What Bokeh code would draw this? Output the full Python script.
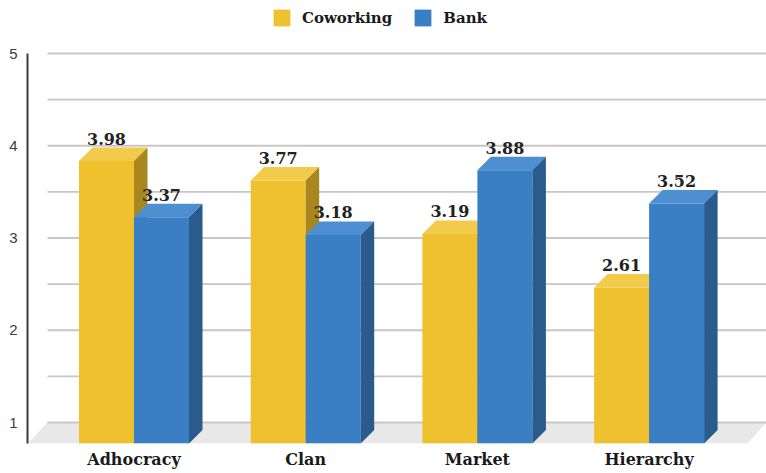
from bokeh.plotting import figure
from bokeh.models import FixedTicker, Legend, LegendItem
from bokeh.embed import file_html
from bokeh.resources import INLINE

categories = ["Adhocracy", "Clan", "Market", "Hierarchy"]
series = ["Coworking", "Bank"]
coworking = [3.98, 3.77, 3.19, 2.61]
bank = [3.37, 3.18, 3.88, 3.52]
yticks = [1, 2, 3, 4, 5]
grid_vals = [1, 1.5, 2, 2.5, 3, 3.5, 4, 4.5, 5]

# ---- geometry (style) ----
PX_X = 171.7          # px per category
PX_Y = 92.25          # px per value unit
FRAME_L, FRAME_R = 27, 766
CENTER0 = 133.5
X0 = 0.5 - (CENTER0 - FRAME_L) / PX_X
X1 = 0.5 + (FRAME_R - CENTER0) / PX_X
VB = 1 - 21 / PX_Y
VT = 1 + 422 / PX_Y
W = 55 / PX_X
DX = 13.5 / PX_X
DY = 13.5 / PX_Y
FLOOR_DX = 20 / PX_X
FLOOR_FRONT_END = 0.5 + (747 - CENTER0) / PX_X

colors = {
    "Coworking": ("#EFC12F", "#F3CB4C", "#A8871F"),
    "Bank": ("#3A7EC3", "#4E8FD2", "#295B8C"),
}

p = figure(width=766, height=473, x_range=(X0, X1), y_range=(VB, VT),
           output_backend="svg", toolbar_location=None,
           min_border_left=FRAME_L, min_border_right=0, min_border_top=0,
           min_border_bottom=30, outline_line_color=None)
p.xgrid.visible = False
p.ygrid.visible = False

# floor
p.patch([X0, FLOOR_FRONT_END, X1, X0 + FLOOR_DX], [VB, VB, 1, 1],
        fill_color="#e8e8e8", line_color=None)

# back wall grid lines
p.segment(x0=[X0 + FLOOR_DX] * len(grid_vals), y0=grid_vals,
          x1=[X1] * len(grid_vals), y1=grid_vals,
          line_color="#cbc5c5", line_width=1.8)

legend_items = []
for si, (name, vals) in enumerate(zip(series, [coworking, bank])):
    front_c, top_c, side_c = colors[name]
    lefts, rights, ftops = [], [], []
    top_xs, top_ys, side_xs, side_ys = [], [], [], []
    for i, v in enumerate(vals):
        c = i + 0.5
        xl = c - W + si * W
        xr = xl + W
        ft = v - DY
        lefts.append(xl); rights.append(xr); ftops.append(ft)
        top_xs.append([xl, xr, xr + DX, xl + DX])
        top_ys.append([ft, ft, v, v])
        side_xs.append([xr, xr, xr + DX, xr + DX])
        side_ys.append([VB, ft, v, VB + DY])
    r = p.quad(left=lefts, right=rights, bottom=[VB] * len(vals), top=ftops,
               fill_color=front_c, line_color=None)
    p.patches(top_xs, top_ys, fill_color=top_c, line_color=None)
    p.patches(side_xs, side_ys, fill_color=side_c, line_color=None)
    legend_items.append(LegendItem(label=name, renderers=[r]))
    # value labels
    p.text(x=[(l + rr) / 2 for l, rr in zip(lefts, rights)],
           y=[v + 9 / PX_Y for v in vals],
           text=[f"{v:.2f}" for v in vals],
           text_align="center", text_baseline="alphabetic",
           text_font={"value": "DejaVu Serif"}, text_font_style="bold",
           text_font_size="16px", text_color="#222222")

# axes
p.yaxis.ticker = FixedTicker(ticks=yticks)
p.yaxis.bounds = (VB, 5)
p.yaxis.axis_line_color = "#3a3a3a"
p.yaxis.axis_line_width = 2
p.yaxis.major_tick_line_color = None
p.yaxis.minor_tick_line_color = None
p.yaxis.major_tick_out = 0
p.yaxis.major_tick_in = 0
p.yaxis.minor_tick_out = 0
p.yaxis.major_label_standoff = 10
p.yaxis.major_label_text_font = "Liberation Sans"
p.yaxis.major_label_text_font_size = "15px"
p.yaxis.major_label_text_color = "#3c3c3c"

xt = [i + 0.5 for i in range(len(categories))]
p.xaxis.ticker = FixedTicker(ticks=xt)
p.xaxis.major_label_overrides = {t: c for t, c in zip(xt, categories)}
p.xaxis.axis_line_color = None
p.xaxis.major_tick_line_color = None
p.xaxis.minor_tick_line_color = None
p.xaxis.major_tick_out = 0
p.xaxis.major_tick_in = 0
p.xaxis.minor_tick_out = 0
p.xaxis.major_label_standoff = 6
p.xaxis.major_label_text_font = "DejaVu Serif"
p.xaxis.major_label_text_font_style = "bold"
p.xaxis.major_label_text_font_size = "16px"
p.xaxis.major_label_text_color = "#1a1a1a"

legend = Legend(items=legend_items, orientation="horizontal",
                location=(244, 415), glyph_width=21, glyph_height=21,
                label_height=21, label_standoff=10, spacing=20, padding=0,
                margin=0, border_line_color=None, background_fill_alpha=0,
                label_text_font="DejaVu Serif", label_text_font_style="bold",
                label_text_font_size="15px", label_text_color="#1a1a1a")
p.add_layout(legend, "center")

open("out.html", "w").write(file_html(p, INLINE))
